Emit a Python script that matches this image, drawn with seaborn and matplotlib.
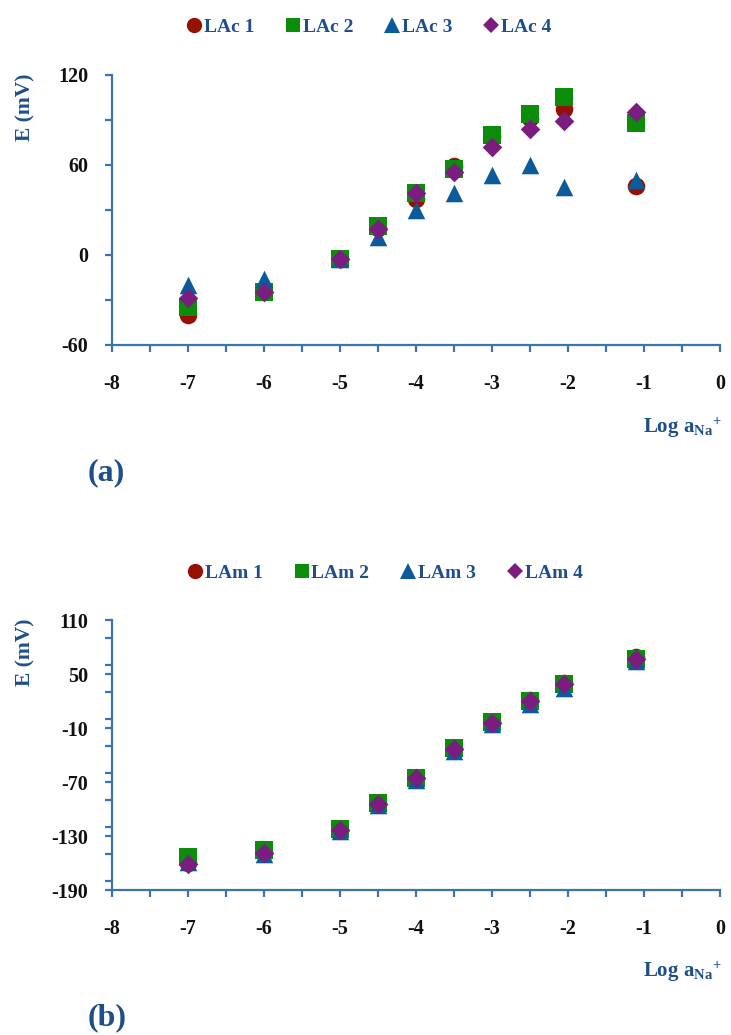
import numpy as np
import pandas as pd
import matplotlib
matplotlib.use("Agg")
import matplotlib.pyplot as plt
import seaborn as sns
from matplotlib.ticker import MultipleLocator

# ---------------- data ----------------
log_a = [-7, -6, -5, -4.5, -4, -3.5, -3, -2.5, -2.05, -1.11]

lac_names = ["LAc 1", "LAc 2", "LAc 3", "LAc 4"]
lac1 = [-40, -25, -3, 18, 37, 59, 79, 91, 97, 46]
lac2 = [-35, -25, -3, 19, 41, 57, 80, 94, 105, 88]
lac3 = [-20, -16, -3, 12, 30, 41, 53, 60, 45, 50]
lac4 = [-29, -25, -3, 17, 41, 55, 72, 84, 89, 95]

lam_names = ["LAm 1", "LAm 2", "LAm 3", "LAm 4"]
lam1 = [-160, -149, -123, -94, -65, -32, -3, 21, 40, 69]
lam2 = [-153, -146, -122, -93, -65, -32, -3, 20, 39, 67]
lam3 = [-159, -150, -124, -96, -68, -36, -6, 17, 35, 64]
lam4 = [-161, -149, -123, -94, -66, -33, -4, 20, 39, 67]

y_ticks_a = [-60, 0, 60, 120]
y_ticks_b = [-190, -130, -70, -10, 50, 110]
x_ticks = [-8, -7, -6, -5, -4, -3, -2, -1, 0]

# ---------------- style ----------------
sns.set_style("white")
plt.rcParams["font.family"] = ["Liberation Serif", "DejaVu Serif"]
plt.rcParams["axes.unicode_minus"] = False
plt.rcParams["mathtext.fontset"] = "custom"
plt.rcParams["mathtext.rm"] = "Liberation Serif"
plt.rcParams["mathtext.bf"] = "Liberation Serif:bold"
plt.rcParams["mathtext.it"] = "Liberation Serif:italic"

AXC = "#3E74AE"
TXT = "#1E4F8A"
colors = ["#961003", "#0B8C0B", "#0B5A9C", "#7A1D7E"]
markers = ["o", "s", "^", "D"]
sizes = [160, 150, 160, 100]


def long_df(names, series):
    rows = []
    for n, s in zip(names, series):
        for x, y in zip(log_a, s):
            rows.append({"x": x, "E": y, "series": n})
    return pd.DataFrame(rows)


fig = plt.figure(figsize=(7.31, 10.35), dpi=100)
ax_a = fig.add_axes([112 / 731, 1 - 345 / 1035, 608 / 731, 270 / 1035])
ax_b = fig.add_axes([112 / 731, 1 - 890 / 1035, 608 / 731, 270 / 1035])


def draw(ax, names, series, ylim, yticks, ystep_minor, legend_y, legend_x):
    df = long_df(names, series)
    for n, c, m, s in zip(names, colors, markers, sizes):
        sub = df[df["series"] == n]
        sns.scatterplot(data=sub, x="x", y="E", ax=ax, color=c, marker=m,
                        s=s, linewidth=0, label=n, legend=False, zorder=3)
    ax.set_xlim(-8, 0)
    ax.set_ylim(*ylim)
    ax.set_xticks(x_ticks)
    ax.set_yticks(yticks)
    ax.xaxis.set_minor_locator(MultipleLocator(0.5))
    ax.yaxis.set_minor_locator(MultipleLocator(ystep_minor))
    for sp in ["top", "right"]:
        ax.spines[sp].set_visible(False)
    for sp in ["left", "bottom"]:
        ax.spines[sp].set_color(AXC)
        ax.spines[sp].set_linewidth(1.6)
    ax.tick_params(axis="both", which="both", direction="out", color=AXC,
                   width=1.6, length=5, bottom=True, left=True)
    ax.tick_params(axis="x", which="major", pad=16, labelsize=14.5)
    ax.tick_params(axis="y", which="major", pad=12, labelsize=14.5)
    for lab in ax.get_xticklabels() + ax.get_yticklabels():
        lab.set_fontweight("bold")
        lab.set_color("#111111")
    ax.set_xlabel("")
    ax.set_ylabel("")
    handles = [plt.Line2D([], [], marker=m, color=c, linestyle="none",
                          markersize=ms, markeredgewidth=0)
               for c, m, ms in zip(colors, markers, [11, 10.5, 11, 8.5])]
    leg = fig.legend(handles, names, loc="center", ncol=4, frameon=False,
                     bbox_to_anchor=(legend_x, legend_y),
                     handletextpad=0.0, columnspacing=1.5, handlelength=1.0,
                     prop={"weight": "bold", "size": 14})
    for t in leg.get_texts():
        t.set_color(TXT)


draw(ax_a, lac_names, [lac1, lac2, lac3, lac4], (-60, 120), y_ticks_a, 30,
     1 - 27 / 1035, 368 / 731)
draw(ax_b, lam_names, [lam1, lam2, lam3, lam4], (-190, 110), y_ticks_b, 30,
     1 - 573 / 1035, 384 / 731)

# axis titles
for ytop in [75, 620]:
    fig.text(25 / 731, 1 - (ytop + 32) / 1035, "E (mV)", rotation=90,
             ha="center", va="center", color=TXT, fontsize=15.5, fontweight="bold")
for ylab in [428, 972]:
    fig.text(722 / 731, 1 - ylab / 1035, r"Log a$_{\mathbf{Na}}$$^{\mathbf{+}}$",
             ha="right", va="center", color=TXT, fontsize=15, fontweight="bold")

fig.text(88 / 731, 1 - 473 / 1035, "(a)", ha="left", va="center", color=TXT,
         fontsize=23, fontweight="bold")
fig.text(88 / 731, 1 - 1018 / 1035, "(b)", ha="left", va="center", color=TXT,
         fontsize=23, fontweight="bold")

fig.savefig("out.png", dpi=100, facecolor="white")
